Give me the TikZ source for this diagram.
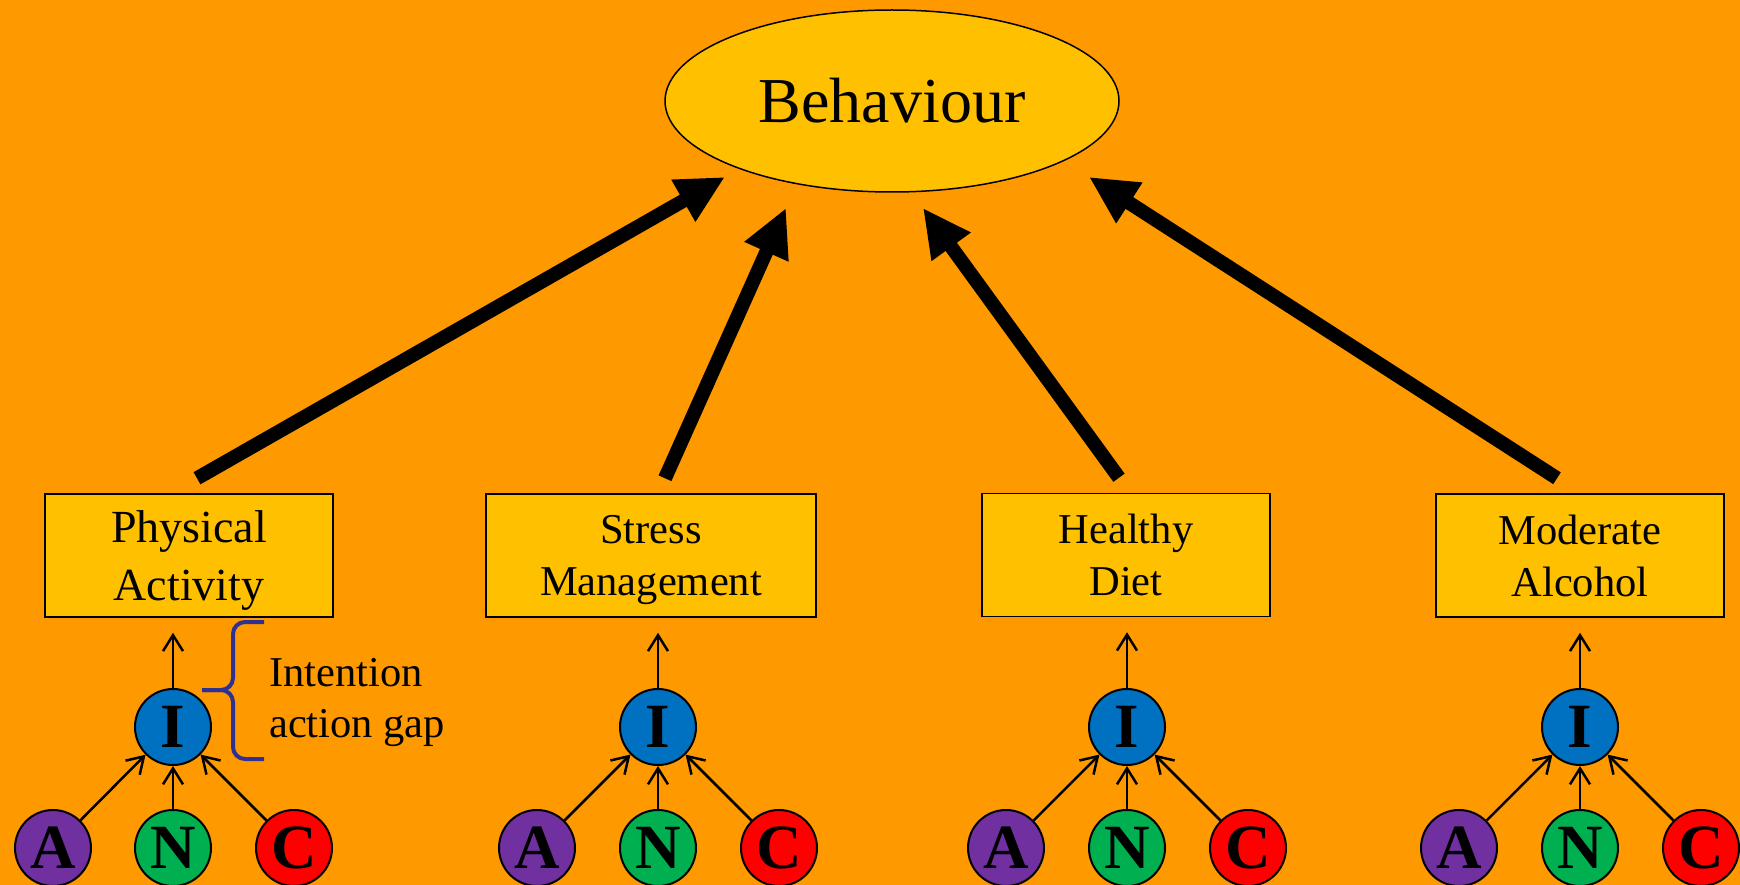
\documentclass[tikz,border=0pt]{standalone}
\usepackage{fontspec}
\setmainfont{Liberation Serif}
\usepackage{tikz}
\usetikzlibrary{arrows.meta}
\usetikzlibrary{shapes.geometric}
\usetikzlibrary{positioning}

\definecolor{bgorange}{RGB}{255,153,0}
\definecolor{gold}{RGB}{255,192,0}
\definecolor{attpurple}{RGB}{112,48,160}
\definecolor{normgreen}{RGB}{0,176,80}
\definecolor{ctrlred}{RGB}{255,0,0}
\definecolor{intblue}{RGB}{0,112,192}
\definecolor{bracenavy}{RGB}{46,49,146}

\begin{document}
\begin{tikzpicture}[x=1pt, y=-1pt,
        behave/.style={ellipse, draw, fill=gold, line width=1.5pt, minimum width=454pt, minimum height=182pt, font=\fontsize{64}{77}\selectfont},
        habit/.style={rectangle, draw, fill=gold, line width=1.5pt, minimum width=288pt, minimum height=123pt, align=center, text depth=0pt, font=\fontsize{42.5}{52}\selectfont},
        factor/.style={circle, draw, line width=2pt, minimum size=76pt, inner sep=0pt, font=\fontsize{63}{63}\selectfont\bfseries},
        bigarrow/.style={-{Triangle[length=48pt,width=45pt]}, line width=14pt, black},
        smallarrow/.style={-{Straight Barb[length=16pt,width=20pt]}, line width=2.5pt, black},
        gapbrace/.style={bracenavy, line width=4pt, rounded corners=12pt},
    ]
    \path[use as bounding box, fill=bgorange] (0,0) rectangle (1740,885);

    \node[behave] (beh) at (892,101) {Behaviour};

    \node[habit, font=\fontsize{46}{58}\selectfont] (pa) at (189,555.5) {Physical\\Activity};
    \node[habit, minimum width=330pt] (st) at (651,555.5) {Stress\\Management};
    \node[habit] (hd) at (1126,555) {Healthy\\Diet};
    \node[habit] (al) at (1580,555.5) {Moderate\\Alcohol};

    % arrow ends near the ellipse
    \coordinate (tip1) at (725,177);
    \coordinate (tip2) at (786,208);
    \coordinate (tip3) at (923,208);
    \coordinate (tip4) at (1089,177);
    \draw[bigarrow] ([xshift=8pt,yshift=15pt]pa.north) -- (tip1);
    \draw[bigarrow] ([xshift=14pt,yshift=15pt]st.north) -- (tip2);
    \draw[bigarrow] ([xshift=-7pt,yshift=15pt]hd.north) -- (tip3);
    \draw[bigarrow] ([xshift=-23pt,yshift=15pt]al.north) -- (tip4);

    % physical activity
    \node[factor, fill=intblue] (pa-i) at (173,727) {I};
    \node[factor, fill=attpurple] (pa-a) at (53,848) {A};
    \node[factor, fill=normgreen] (pa-n) at (173,848) {N};
    \node[factor, fill=ctrlred] (pa-c) at (294,848) {C};
    \draw[smallarrow] (pa-a) -- (pa-i);
    \draw[smallarrow] (pa-n) -- (pa-i);
    \draw[smallarrow] (pa-c) -- (pa-i);
    \draw[smallarrow, shorten >=15pt] (pa-i) -- (pa-i |- pa.south);

    % stress management
    \node[factor, fill=intblue] (st-i) at (658,727) {I};
    \node[factor, fill=attpurple] (st-a) at (537,848) {A};
    \node[factor, fill=normgreen] (st-n) at (658,848) {N};
    \node[factor, fill=ctrlred] (st-c) at (779,848) {C};
    \draw[smallarrow] (st-a) -- (st-i);
    \draw[smallarrow] (st-n) -- (st-i);
    \draw[smallarrow] (st-c) -- (st-i);
    \draw[smallarrow, shorten >=15pt] (st-i) -- (st-i |- st.south);

    % healthy diet
    \node[factor, fill=intblue] (hd-i) at (1127,727) {I};
    \node[factor, fill=attpurple] (hd-a) at (1006,848) {A};
    \node[factor, fill=normgreen] (hd-n) at (1127,848) {N};
    \node[factor, fill=ctrlred] (hd-c) at (1248,848) {C};
    \draw[smallarrow] (hd-a) -- (hd-i);
    \draw[smallarrow] (hd-n) -- (hd-i);
    \draw[smallarrow] (hd-c) -- (hd-i);
    \draw[smallarrow, shorten >=15pt] (hd-i) -- (hd-i |- hd.south);

    % moderate alcohol
    \node[factor, fill=intblue] (al-i) at (1580,727) {I};
    \node[factor, fill=attpurple] (al-a) at (1459,848) {A};
    \node[factor, fill=normgreen] (al-n) at (1580,848) {N};
    \node[factor, fill=ctrlred] (al-c) at (1701,848) {C};
    \draw[smallarrow] (al-a) -- (al-i);
    \draw[smallarrow] (al-n) -- (al-i);
    \draw[smallarrow] (al-c) -- (al-i);
    \draw[smallarrow, shorten >=15pt] (al-i) -- (al-i |- al.south);

    % intention-action gap
    \draw[gapbrace] (264,622) -- (233,622) -- (233,690) -- (202,690);
    \draw[gapbrace] (202,690) -- (233,690) -- (233,759) -- (264,759);
    \node[anchor=west, align=left, inner sep=0pt, font=\fontsize{42.5}{51}\selectfont] (gap) at (269,703) {Intention\\action gap};
\end{tikzpicture}
\end{document}
